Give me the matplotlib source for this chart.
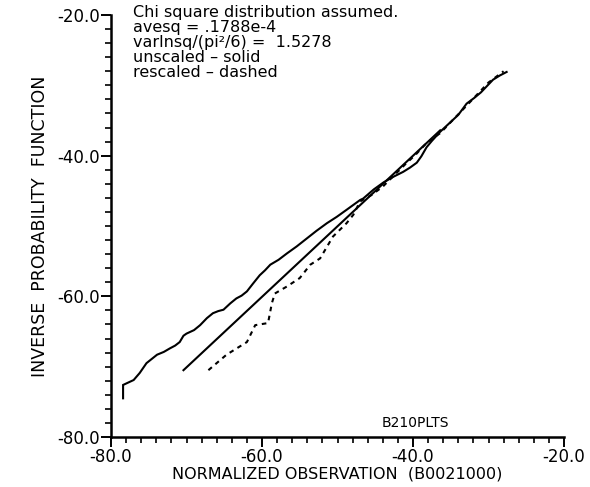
import matplotlib
matplotlib.use("Agg")
import matplotlib.pyplot as plt
from matplotlib.ticker import MultipleLocator, FormatStrFormatter

# Empirical (unscaled) quantiles - solid wiggly curve
unscaled_x = [-78.4, -78.4, -77.0, -76.2, -75.3, -74.6, -73.9, -73.0, -72.2, -71.5, -70.9,
              -70.4, -70.0, -69.0, -68.2, -67.3, -66.5, -65.8, -65.1, -64.2, -63.4, -62.7,
              -62.0, -61.2, -60.3, -59.6, -58.9, -57.8, -56.7, -55.4, -54.1, -52.8, -51.4,
              -50.1, -48.8, -47.9, -47.0, -46.6, -45.2, -43.9, -42.6, -41.3, -40.4, -39.5,
              -38.9, -38.2, -37.5, -36.4, -35.2, -34.0, -32.9, -31.9, -31.0, -30.2, -29.4,
              -28.5, -27.6]
unscaled_y = [-74.5, -72.6, -71.9, -70.9, -69.5, -68.9, -68.3, -67.9, -67.4, -67.0, -66.5,
              -65.6, -65.3, -64.8, -64.1, -63.1, -62.4, -62.1, -61.9, -61.0, -60.3, -59.9,
              -59.3, -58.2, -57.0, -56.3, -55.5, -54.8, -53.9, -52.9, -51.8, -50.7, -49.6,
              -48.7, -47.7, -47.0, -46.3, -46.1, -44.8, -43.8, -43.0, -42.3, -41.7, -41.0,
              -40.1, -38.8, -37.9, -36.6, -35.4, -34.2, -32.6, -31.8, -31.0, -30.1, -29.2,
              -28.6, -28.1]

# Reference straight line
line_x = [-70.4, -36.4]
line_y = [-70.5, -36.4]

# Rescaled quantiles - dashed curve
rescaled_x = [-67.1, -64.7, -62.0, -60.9, -59.2, -58.7, -58.3, -56.7, -55.0, -53.6, -52.3,
              -50.6, -48.8, -47.9, -47.0, -45.5, -44.0, -42.5, -41.0, -39.6, -38.3, -37.2,
              -36.4, -33.0, -30.0, -28.0]
rescaled_y = [-70.5, -68.3, -66.5, -64.1, -63.8, -61.0, -59.6, -58.6, -57.4, -55.5, -54.6,
              -51.5, -49.6, -48.4, -46.5, -45.6, -44.4, -42.8, -41.2, -39.8, -38.3, -37.4,
              -36.8, -33.0, -29.6, -28.0]

x_ticks = [-80.0, -60.0, -40.0, -20.0]
y_ticks = [-80.0, -60.0, -40.0, -20.0]

info_lines = ["Chi square distribution assumed.",
              "avesq = .1788e-4",
              "varlnsq/(pi\u00b2/6) =  1.5278",
              "unscaled \u2013 solid",
              "rescaled \u2013 dashed"]

plt.rcParams['font.family'] = ['DejaVu Sans']
fig = plt.figure(figsize=(5.90, 4.87), dpi=100)
ax = fig.add_axes([111/590, 50/487, (564-111)/590, (437-15)/487])

ax.plot(unscaled_x, unscaled_y, color='black', lw=1.5, solid_joinstyle='miter')
ax.plot(line_x, line_y, color='black', lw=1.5)
ax.plot(rescaled_x, rescaled_y, color='black', lw=1.5, linestyle=(0, (2.2, 2.2)))

ax.set_xlim(-80, -20)
ax.set_ylim(-80, -20)
for s in ['top', 'right']:
    ax.spines[s].set_visible(False)
for s in ['left', 'bottom']:
    ax.spines[s].set_linewidth(1.8)

ax.set_xticks(x_ticks)
ax.set_yticks(y_ticks)
ax.xaxis.set_minor_locator(MultipleLocator(2))
ax.yaxis.set_minor_locator(MultipleLocator(2))
ax.xaxis.set_major_formatter(FormatStrFormatter('%.1f'))
ax.yaxis.set_major_formatter(FormatStrFormatter('%.1f'))
ax.tick_params(which='major', direction='out', length=7, width=1.4, labelsize=12, pad=1)
ax.tick_params(which='minor', direction='out', length=4, width=1.2)

ax.set_xlabel("NORMALIZED OBSERVATION  (B0021000)", fontsize=11.5, labelpad=0)
ax.set_ylabel("INVERSE  PROBABILITY  FUNCTION", fontsize=12.5, labelpad=6)

for i, t in enumerate(info_lines):
    fig.text(133/590, 1 - (12 + 15.2*i)/487, t, fontsize=11.5, va='center', ha='left')

fig.text(415/590, 1 - 423/487, "B210PLTS", fontsize=10, ha='center', va='center')

fig.savefig("out.png", dpi=100)
